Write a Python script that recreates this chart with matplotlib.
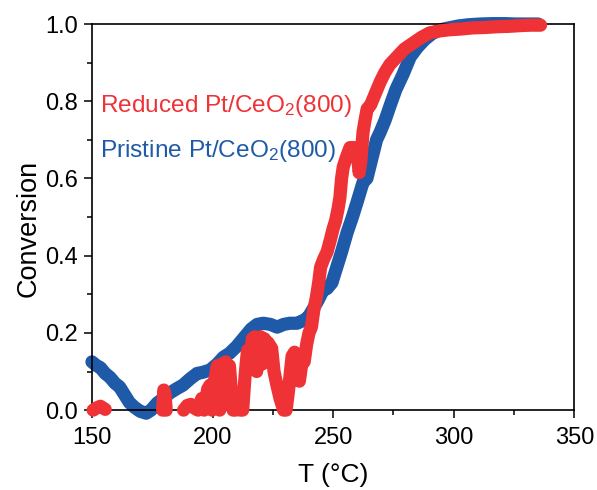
import matplotlib.pyplot as plt
import numpy as np

plt.rcParams["font.family"] = ["Liberation Sans", "DejaVu Sans"]
plt.rcParams["mathtext.default"] = "regular"

nan = np.nan

# Reduced Pt/CeO2(800) - червона крива (розриви там, де даних немає)
t_reduced = [150.5, 152, 153.5, 155.5, nan,
             179.3, 179.8, 180.3, 180.8, nan,
             188, 189.5, 191, 192.5, 194, 195.5, 196.5, 198, 199, 199.8,
             201, 202, 203, 204, 204.8, 205.5, 206.2, 207, 207.8, 208.5,
             209.5, 210.5, 211.5, 212.5, 213.5, 214.5, 215.5, 216.5, 217.5, 218.3,
             219, 220, 220.8, 221.5, 222.3, 223, 224.5, 225.5, 226.5, 228,
             229.5, 230.5, 231.5, 232.3, 233, 234, 235, 236, 237, 238,
             239, 240, 241, 242, 243, 244, 244.8, 246, 247.5, 248.8,
             250, 251, 252, 252.8, 253.5, 254.2, 255.5, 257, 258.5, 260,
             260.8, 261.5, 262.4, 263.2, 264.1, 265.5, 267.5, 269.5, 271.5, 273.5,
             276.5, 279.5, 283, 286.5, 290, 294, 298, 303, 308, 313,
             318, 323, 328, 332, 336]
conv_reduced = [0.0, 0.006, 0.01, 0.002, nan,
                0.0, 0.052, 0.04, 0.0, nan,
                0.0, 0.012, 0.015, 0.005, 0.0, 0.03, 0.0, 0.055, 0.065, 0.0,
                0.08, 0.115, 0.0, 0.12, 0.03, 0.125, 0.04, 0.115, 0.05, 0.0,
                0.0, 0.03, 0.0, 0.0, 0.09, 0.155, 0.12, 0.185, 0.19, 0.1,
                0.17, 0.19, 0.12, 0.185, 0.13, 0.175, 0.16, 0.1, 0.07, 0.03,
                0.0, 0.0, 0.05, 0.1, 0.14, 0.15, 0.09, 0.075, 0.12, 0.125,
                0.17, 0.2, 0.215, 0.26, 0.29, 0.33, 0.37, 0.39, 0.41, 0.44,
                0.47, 0.49, 0.52, 0.55, 0.6, 0.63, 0.655, 0.68, 0.68, 0.665,
                0.615, 0.645, 0.72, 0.75, 0.78, 0.79, 0.82, 0.85, 0.875, 0.895,
                0.915, 0.935, 0.95, 0.965, 0.977, 0.982, 0.985, 0.987, 0.99, 0.991,
                0.993, 0.994, 0.996, 0.997, 0.997]

# Pristine Pt/CeO2(800) - синя крива
t_pristine = [150, 152, 153.5, 155.5, 157.5, 159.5, 161.5, 163.5, 165.5, 167.5,
              170, 172.5, 174.5, 177, 179.5, 182.4, 185, 187.8, 190.5, 193.6,
              196, 199, 202, 204.5, 207, 210, 212, 214, 216, 218.5,
              221, 224, 226.8, 229.5, 232, 235, 237.6, 239.6, 241.5, 243.8,
              245.8, 247.5, 249.5, 251.5, 253.5, 255.8, 258, 260, 262.4, 264,
              266, 268, 269.5, 271.5, 273.7, 276, 279, 282, 285, 288,
              291, 294.4, 298, 302, 306, 311, 316, 321, 326, 331, 335]
conv_pristine = [0.125, 0.115, 0.11, 0.095, 0.085, 0.07, 0.06, 0.04, 0.02, 0.008,
                 -0.003, -0.008, 0.0, 0.018, 0.03, 0.045, 0.055, 0.065, 0.08, 0.095,
                 0.098, 0.104, 0.12, 0.137, 0.147, 0.165, 0.18, 0.195, 0.21, 0.222,
                 0.225, 0.222, 0.215, 0.222, 0.225, 0.225, 0.232, 0.24, 0.26, 0.285,
                 0.31, 0.315, 0.33, 0.37, 0.41, 0.46, 0.5, 0.54, 0.59, 0.6,
                 0.65, 0.7, 0.72, 0.75, 0.79, 0.83, 0.87, 0.915, 0.94, 0.96,
                 0.975, 0.985, 0.99, 0.995, 0.998, 1.0, 1.001, 1.001, 1.0, 1.0, 1.0]

red = "#ee3236"
blue = "#1f5aa8"

fig = plt.figure(figsize=(5.97, 4.90), dpi=100)
ax = fig.add_axes([0.154, 0.163, 0.808, 0.788])

line_kw = dict(linewidth=9.5, solid_capstyle="round", solid_joinstyle="round", clip_on=False)
ax.plot(t_pristine, conv_pristine, color=blue, zorder=2, **line_kw)
ax.plot(t_reduced, conv_reduced, color=red, zorder=3, **line_kw)

ax.set_xlim(150, 350)
ax.set_ylim(0, 1.0)
ax.set_xticks(np.arange(150, 351, 50))
ax.set_xticks(np.arange(175, 350, 50), minor=True)
ax.set_yticks(np.arange(0, 1.01, 0.2))
ax.set_yticks(np.arange(0.1, 1.0, 0.2), minor=True)
ax.yaxis.set_major_formatter(plt.FormatStrFormatter("%.1f"))

ax.tick_params(which="major", direction="out", length=6, width=1.1, labelsize=17)
ax.tick_params(which="minor", direction="out", length=3.5, width=1.1)
ax.tick_params(axis="x", which="major", pad=6)
ax.tick_params(axis="y", which="major", pad=4)
for s in ax.spines.values():
    s.set_linewidth(1.2)

ax.set_xlabel("T (°C)", fontsize=19, labelpad=10)
ax.set_ylabel("Conversion", fontsize=19.5)
ax.yaxis.set_label_coords(-0.105, 0.47)

ax.text(153.3, 0.772, "Reduced Pt/CeO$_2$(800)", color=red, fontsize=17.6, va="baseline")
ax.text(153.3, 0.655, "Pristine Pt/CeO$_2$(800)", color=blue, fontsize=17.6, va="baseline")

fig.savefig("out.png", dpi=100)
